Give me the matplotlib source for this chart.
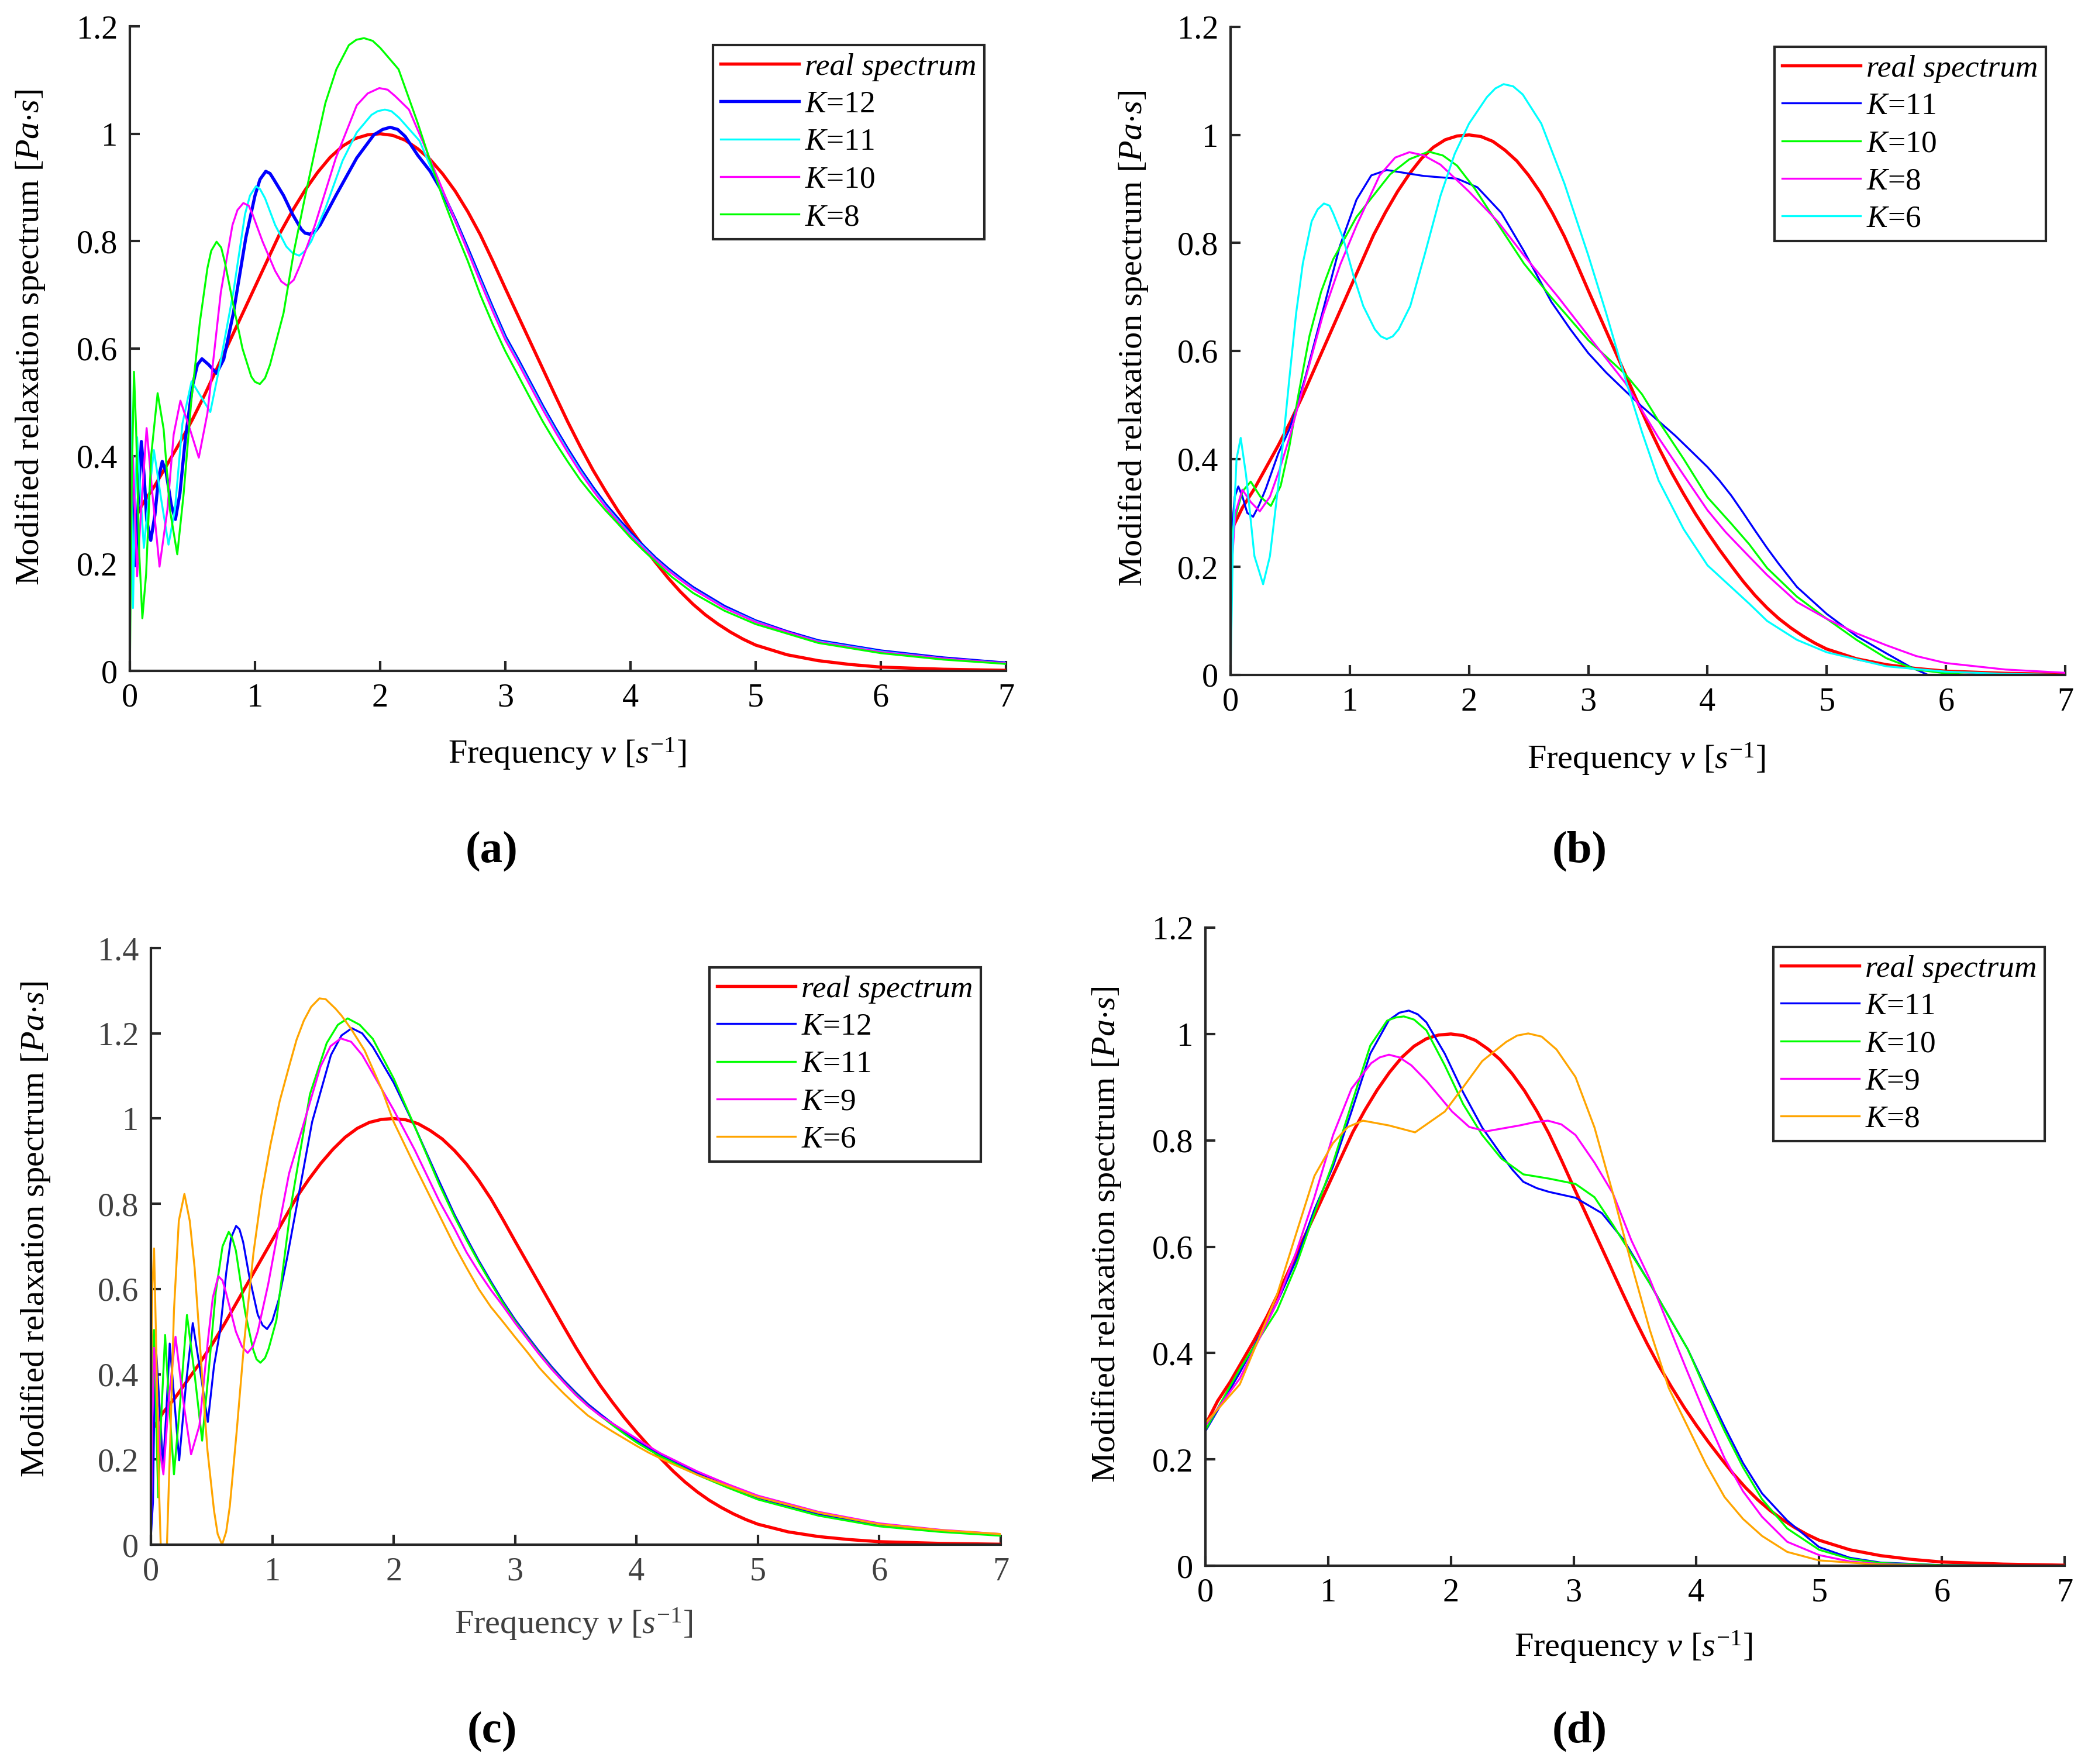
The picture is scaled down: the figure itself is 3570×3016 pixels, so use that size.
import matplotlib
matplotlib.use("Agg")
import matplotlib.pyplot as plt
from matplotlib.ticker import FuncFormatter, MultipleLocator

plt.rcParams['font.family'] = ['Liberation Serif', 'DejaVu Serif']
plt.rcParams['mathtext.fontset'] = 'custom'
plt.rcParams['mathtext.rm'] = 'Liberation Serif'
plt.rcParams['mathtext.it'] = 'Liberation Serif:italic'
plt.rcParams['mathtext.bf'] = 'Liberation Serif:bold'

# ---------------- data ----------------
real_v = [0.0, 0.1, 0.2, 0.3, 0.4, 0.5, 0.6, 0.7, 0.8, 0.9, 1.0, 1.1, 1.2, 1.3, 1.4, 1.5,
          1.6, 1.7, 1.8, 1.9, 2.0, 2.1, 2.2, 2.3, 2.4, 2.5, 2.6, 2.7, 2.8, 2.9, 3.0, 3.1,
          3.2, 3.3, 3.4, 3.5, 3.6, 3.7, 3.8, 3.9, 4.0, 4.1, 4.2, 4.3, 4.4, 4.5, 4.6, 4.7,
          4.8, 4.9, 5.0, 5.25, 5.5, 5.75, 6.0, 6.5, 7.0]
real_h = [0.265, 0.31, 0.345, 0.385, 0.425, 0.468, 0.515, 0.565, 0.615, 0.665, 0.715, 0.765,
          0.815, 0.857, 0.895, 0.928, 0.956, 0.977, 0.991, 0.998, 1.0, 0.997, 0.988, 0.972,
          0.952, 0.925, 0.893, 0.855, 0.812, 0.763, 0.712, 0.662, 0.612, 0.562, 0.512, 0.463,
          0.417, 0.374, 0.335, 0.298, 0.264, 0.232, 0.202, 0.173, 0.147, 0.124, 0.104, 0.087,
          0.072, 0.059, 0.048, 0.030, 0.019, 0.012, 0.007, 0.003, 0.001]

# ---- panel (a) ----
a_k12_v = [0.0, 0.02, 0.045, 0.07, 0.092, 0.115, 0.135, 0.167, 0.2, 0.23, 0.259, 0.29, 0.33,
           0.364, 0.40, 0.443, 0.50, 0.54, 0.576, 0.63, 0.693, 0.75, 0.827, 0.927, 1.0, 1.04,
           1.086, 1.12, 1.15, 1.228, 1.30, 1.37, 1.40, 1.437, 1.48, 1.52, 1.646, 1.813, 1.95,
           2.02, 2.08, 2.14, 2.2, 2.3, 2.4, 2.5, 2.6, 2.7, 2.8, 2.9, 3.0, 3.1, 3.2, 3.3, 3.4,
           3.5, 3.6, 3.7, 3.8, 3.9, 4.0, 4.1, 4.2, 4.3, 4.4, 4.5, 4.75, 5.0, 5.25, 5.5, 6.0,
           6.5, 7.0]
a_k12_h = [0.47, 0.30, 0.196, 0.33, 0.427, 0.36, 0.28, 0.243, 0.29, 0.36, 0.39, 0.37, 0.31,
           0.282, 0.33, 0.431, 0.53, 0.57, 0.581, 0.57, 0.554, 0.58, 0.666, 0.807, 0.885, 0.915,
           0.93, 0.926, 0.915, 0.885, 0.85, 0.822, 0.815, 0.813, 0.818, 0.83, 0.885, 0.955,
           0.998, 1.008, 1.012, 1.008, 0.995, 0.96, 0.93, 0.89, 0.84, 0.786, 0.73, 0.675,
           0.622, 0.58, 0.536, 0.492, 0.451, 0.412, 0.375, 0.341, 0.31, 0.283, 0.257, 0.233,
           0.21, 0.19, 0.172, 0.155, 0.12, 0.093, 0.073, 0.056, 0.037, 0.024, 0.0145]

a_k11_v = [0.0, 0.012, 0.025, 0.04, 0.058, 0.085, 0.112, 0.15, 0.192, 0.25, 0.309, 0.36, 0.42,
           0.493, 0.57, 0.643, 0.72, 0.827, 0.92, 0.96, 1.0075, 1.04, 1.08, 1.161, 1.25, 1.30,
           1.353, 1.40, 1.45, 1.562, 1.7, 1.813, 1.93, 1.98, 2.038, 2.09, 2.15, 2.314, 2.4,
           2.5, 2.6, 2.7, 2.8, 2.9, 3.0, 3.1, 3.2, 3.3, 3.4, 3.5, 3.6, 3.7, 3.8, 3.9, 4.0,
           4.1, 4.2, 4.3, 4.4, 4.5, 4.75, 5.0, 5.25, 5.5, 6.0, 6.5, 7.0]
a_k11_h = [0.60, 0.35, 0.117, 0.30, 0.435, 0.33, 0.229, 0.32, 0.411, 0.32, 0.235, 0.30, 0.46,
           0.539, 0.51, 0.482, 0.57, 0.705, 0.85, 0.885, 0.902, 0.897, 0.88, 0.83, 0.79, 0.778,
           0.773, 0.782, 0.80, 0.861, 0.95, 1.0025, 1.035, 1.042, 1.045, 1.042, 1.03, 0.987,
           0.94, 0.893, 0.839, 0.783, 0.727, 0.672, 0.619, 0.577, 0.533, 0.489, 0.448, 0.409,
           0.372, 0.338, 0.307, 0.28, 0.254, 0.231, 0.208, 0.188, 0.17, 0.153, 0.118, 0.092,
           0.072, 0.055, 0.036, 0.023, 0.014]

a_k10_v = [0.0, 0.01, 0.025, 0.04, 0.058, 0.09, 0.134, 0.18, 0.237, 0.30, 0.35, 0.404, 0.48,
           0.551, 0.62, 0.727, 0.82, 0.86, 0.907, 0.95, 0.98, 1.061, 1.16, 1.21, 1.258, 1.31,
           1.36, 1.479, 1.646, 1.813, 1.9, 1.993, 2.06, 2.12, 2.23, 2.35, 2.5, 2.6, 2.7, 2.8,
           2.9, 3.0, 3.1, 3.2, 3.3, 3.4, 3.5, 3.6, 3.7, 3.8, 3.9, 4.0, 4.1, 4.2, 4.3, 4.4, 4.5,
           4.75, 5.0, 5.5, 6.0, 6.5, 7.0]
a_k10_h = [0.05, 0.30, 0.40, 0.30, 0.176, 0.30, 0.452, 0.33, 0.194, 0.30, 0.44, 0.503, 0.45,
           0.397, 0.48, 0.705, 0.83, 0.858, 0.871, 0.866, 0.85, 0.799, 0.745, 0.725, 0.717,
           0.728, 0.755, 0.83, 0.955, 1.053, 1.075, 1.085, 1.082, 1.07, 1.045, 0.98, 0.895,
           0.838, 0.781, 0.724, 0.669, 0.616, 0.574, 0.53, 0.486, 0.445, 0.406, 0.369, 0.336,
           0.305, 0.278, 0.252, 0.229, 0.207, 0.187, 0.169, 0.152, 0.117, 0.091, 0.054, 0.035,
           0.023, 0.014]

a_k8_v = [0.0, 0.015, 0.033, 0.05, 0.075, 0.1, 0.13, 0.17, 0.222, 0.27, 0.32, 0.379, 0.43,
          0.49, 0.56, 0.62, 0.65, 0.693, 0.73, 0.76, 0.827, 0.90, 0.97, 1.0, 1.039, 1.08, 1.12,
          1.228, 1.31, 1.395, 1.48, 1.562, 1.65, 1.75, 1.81, 1.871, 1.94, 2.0, 2.147, 2.3,
          2.42, 2.5, 2.6, 2.7, 2.8, 2.9, 3.0, 3.1, 3.2, 3.3, 3.4, 3.5, 3.6, 3.7, 3.8, 3.9, 4.0,
          4.1, 4.2, 4.33, 4.5, 4.75, 5.0, 5.5, 6.0, 6.5, 7.0]
a_k8_h = [0.0, 0.35, 0.557, 0.45, 0.22, 0.098, 0.18, 0.40, 0.517, 0.45, 0.30, 0.217, 0.33,
          0.50, 0.65, 0.75, 0.782, 0.799, 0.788, 0.76, 0.681, 0.60, 0.548, 0.538, 0.534, 0.545,
          0.57, 0.666, 0.78, 0.877, 0.97, 1.057, 1.12, 1.165, 1.175, 1.178, 1.173, 1.16, 1.12,
          1.02, 0.935, 0.881, 0.82, 0.763, 0.70, 0.645, 0.595, 0.551, 0.507, 0.464, 0.425,
          0.389, 0.355, 0.326, 0.299, 0.274, 0.248, 0.225, 0.203, 0.175, 0.145, 0.112, 0.087,
          0.052, 0.033, 0.021, 0.013]

# ---- panel (b) ----
b_k11_v = [0.0, 0.015, 0.035, 0.065, 0.1, 0.14, 0.189, 0.24, 0.296, 0.4, 0.493, 0.56, 0.634,
           0.775, 0.915, 1.056, 1.18, 1.31, 1.45, 1.62, 1.90, 2.07, 2.27, 2.46, 2.69, 2.85, 3.0,
           3.15, 3.31, 3.45, 3.59, 3.73, 3.87, 4.0, 4.1, 4.2, 4.3, 4.4, 4.5, 4.6, 4.75, 5.0,
           5.25, 5.5, 5.7, 5.85, 6.0, 6.5, 7.0]
b_k11_h = [0.08, 0.28, 0.33, 0.349, 0.33, 0.30, 0.293, 0.315, 0.345, 0.41, 0.455, 0.50, 0.557,
           0.675, 0.793, 0.88, 0.925, 0.935, 0.93, 0.924, 0.919, 0.903, 0.856, 0.785, 0.691,
           0.64, 0.596, 0.56, 0.526, 0.497, 0.47, 0.443, 0.413, 0.385, 0.36, 0.332, 0.30, 0.267,
           0.235, 0.205, 0.163, 0.113, 0.072, 0.04, 0.015, 0.0, -0.01, -0.01, -0.005]

b_k10_v = [0.0, 0.05, 0.1, 0.169, 0.25, 0.338, 0.42, 0.493, 0.57, 0.662, 0.76, 0.859, 1.056,
           1.338, 1.5, 1.662, 1.78, 1.90, 2.05, 2.18, 2.46, 2.69, 3.0, 3.31, 3.45, 3.59, 3.8,
           4.0, 4.2, 4.35, 4.5, 4.75, 5.0, 5.25, 5.5, 5.75, 6.0, 6.2, 7.0]
b_k10_h = [0.25, 0.30, 0.34, 0.358, 0.33, 0.313, 0.35, 0.423, 0.52, 0.628, 0.71, 0.769, 0.848,
           0.927, 0.955, 0.969, 0.962, 0.943, 0.90, 0.856, 0.762, 0.699, 0.62, 0.557, 0.52,
           0.47, 0.40, 0.329, 0.28, 0.242, 0.198, 0.145, 0.104, 0.065, 0.031, 0.01, 0.003, 0.0,
           0.0]

b_k8_v = [0.0, 0.04, 0.099, 0.17, 0.245, 0.33, 0.41, 0.493, 0.63, 0.775, 0.92, 1.056, 1.25,
          1.38, 1.5, 1.62, 1.76, 2.0, 2.24, 2.46, 2.75, 3.0, 3.31, 3.59, 3.8, 4.0, 4.15, 4.35,
          4.5, 4.75, 5.0, 5.25, 5.5, 5.75, 6.0, 6.5, 7.0]
b_k8_h = [0.17, 0.30, 0.343, 0.32, 0.303, 0.33, 0.38, 0.439, 0.55, 0.667, 0.76, 0.832, 0.925,
          0.958, 0.968, 0.962, 0.945, 0.895, 0.84, 0.777, 0.699, 0.628, 0.541, 0.439, 0.37,
          0.305, 0.265, 0.219, 0.185, 0.135, 0.104, 0.077, 0.055, 0.035, 0.022, 0.01, 0.004]

b_k6_v = [0.0, 0.02, 0.05, 0.085, 0.13, 0.2, 0.273, 0.33, 0.38, 0.44, 0.493, 0.55, 0.606,
          0.68, 0.73, 0.783, 0.83, 0.86, 0.944, 1.03, 1.113, 1.21, 1.26, 1.31, 1.36, 1.41,
          1.507, 1.63, 1.76, 1.88, 2.0, 2.15, 2.22, 2.29, 2.37, 2.45, 2.606, 2.8, 3.0, 3.15,
          3.31, 3.45, 3.59, 3.8, 4.0, 4.35, 4.5, 4.75, 5.0, 5.5, 6.0, 6.5, 7.0]
b_k6_h = [0.0, 0.25, 0.40, 0.439, 0.37, 0.22, 0.168, 0.22, 0.313, 0.43, 0.549, 0.67, 0.762,
          0.84, 0.862, 0.873, 0.869, 0.855, 0.809, 0.74, 0.683, 0.64, 0.627, 0.622, 0.627,
          0.64, 0.683, 0.78, 0.887, 0.965, 1.021, 1.07, 1.086, 1.094, 1.09, 1.075, 1.021,
          0.91, 0.777, 0.67, 0.549, 0.45, 0.36, 0.27, 0.203, 0.132, 0.10, 0.065, 0.042, 0.016,
          0.006, 0.002, 0.0]

# ---- panel (c) ----
c_k12_v = [0.0, 0.017, 0.03, 0.043, 0.07, 0.1, 0.125, 0.155, 0.19, 0.233, 0.29, 0.345, 0.40,
           0.469, 0.52, 0.569, 0.621, 0.66, 0.702, 0.73, 0.76, 0.81, 0.88, 0.92, 0.957, 1.0,
           1.052, 1.12, 1.19, 1.328, 1.483, 1.57, 1.655, 1.74, 1.828, 2.0, 2.172, 2.376, 2.5,
           2.6, 2.7, 2.8, 2.9, 3.0, 3.1, 3.2, 3.3, 3.4, 3.5, 3.6, 3.7, 3.8, 3.9, 4.0, 4.1, 4.2,
           4.3, 4.5, 4.75, 5.0, 5.5, 6.0, 6.5, 7.0]
c_k12_h = [0.02, 0.10, 0.35, 0.458, 0.33, 0.184, 0.30, 0.472, 0.35, 0.198, 0.38, 0.52, 0.42,
           0.288, 0.42, 0.50, 0.639, 0.72, 0.748, 0.74, 0.71, 0.63, 0.54, 0.515, 0.506, 0.525,
           0.574, 0.67, 0.778, 0.992, 1.149, 1.195, 1.212, 1.20, 1.168, 1.084, 0.982, 0.852,
           0.775, 0.72, 0.667, 0.618, 0.571, 0.528, 0.49, 0.453, 0.418, 0.386, 0.357, 0.33,
           0.307, 0.285, 0.264, 0.244, 0.227, 0.211, 0.197, 0.168, 0.138, 0.11, 0.072, 0.046,
           0.033, 0.024]

c_k11_v = [0.0, 0.012, 0.026, 0.043, 0.06, 0.085, 0.117, 0.15, 0.19, 0.24, 0.297, 0.36, 0.422,
           0.48, 0.534, 0.59, 0.641, 0.67, 0.70, 0.776, 0.84, 0.87, 0.902, 0.94, 0.97, 1.034,
           1.155, 1.31, 1.448, 1.54, 1.621, 1.72, 1.828, 2.0, 2.172, 2.376, 2.5, 2.6, 2.7, 2.8,
           2.9, 3.0, 3.1, 3.2, 3.3, 3.4, 3.5, 3.6, 3.7, 3.8, 3.9, 4.0, 4.1, 4.2, 4.3, 4.5, 4.75,
           5.0, 5.5, 6.0, 6.5, 7.0]
c_k11_h = [0.30, 0.45, 0.504, 0.30, 0.111, 0.30, 0.492, 0.33, 0.165, 0.33, 0.539, 0.40, 0.244,
           0.42, 0.592, 0.70, 0.734, 0.72, 0.69, 0.546, 0.46, 0.435, 0.427, 0.438, 0.46, 0.527,
           0.797, 1.057, 1.177, 1.22, 1.235, 1.22, 1.187, 1.094, 0.982, 0.845, 0.77, 0.715,
           0.663, 0.614, 0.567, 0.524, 0.486, 0.449, 0.414, 0.382, 0.353, 0.326, 0.303, 0.281,
           0.26, 0.24, 0.223, 0.207, 0.193, 0.164, 0.134, 0.106, 0.068, 0.043, 0.03, 0.021]

c_k9_v = [0.0, 0.012, 0.026, 0.05, 0.075, 0.103, 0.15, 0.203, 0.26, 0.331, 0.40, 0.47, 0.51,
          0.555, 0.59, 0.62, 0.70, 0.75, 0.797, 0.84, 0.88, 0.966, 1.05, 1.138, 1.31, 1.397,
          1.48, 1.564, 1.65, 1.741, 2.0, 2.172, 2.376, 2.5, 2.6, 2.7, 2.8, 2.9, 3.0, 3.1, 3.2,
          3.3, 3.4, 3.5, 3.6, 3.7, 3.8, 3.9, 4.0, 4.1, 4.2, 4.3, 4.5, 4.75, 5.0, 5.5, 6.0,
          6.5, 7.0]
c_k9_h = [0.02, 0.30, 0.462, 0.35, 0.22, 0.165, 0.35, 0.488, 0.35, 0.212, 0.28, 0.48, 0.58,
          0.63, 0.62, 0.59, 0.50, 0.465, 0.45, 0.465, 0.50, 0.611, 0.74, 0.871, 1.038, 1.122,
          1.17, 1.188, 1.18, 1.149, 1.02, 0.927, 0.806, 0.742, 0.686, 0.64, 0.598, 0.56, 0.52,
          0.483, 0.446, 0.412, 0.381, 0.351, 0.325, 0.303, 0.285, 0.267, 0.249, 0.231, 0.214,
          0.20, 0.172, 0.142, 0.115, 0.077, 0.05, 0.035, 0.025]

c_k6_v = [0.0, 0.012, 0.026, 0.045, 0.065, 0.086, 0.11, 0.13, 0.16, 0.19, 0.23, 0.276, 0.32,
          0.36, 0.397, 0.43, 0.466, 0.52, 0.55, 0.586, 0.62, 0.65, 0.707, 0.77, 0.845, 0.91,
          0.983, 1.06, 1.138, 1.2, 1.26, 1.32, 1.388, 1.44, 1.52, 1.569, 1.65, 1.76, 1.9,
          2.0, 2.172, 2.376, 2.5, 2.6, 2.7, 2.8, 2.9, 3.0, 3.1, 3.2, 3.3, 3.4, 3.5, 3.6, 3.7,
          3.8, 3.9, 4.0, 4.1, 4.2, 4.3, 4.5, 4.75, 5.0, 5.5, 6.0, 6.5, 7.0]
c_k6_h = [0.33, 0.60, 0.695, 0.45, 0.15, -0.05, -0.15, -0.02, 0.25, 0.55, 0.76, 0.823, 0.76,
          0.65, 0.50, 0.36, 0.221, 0.08, 0.025, 0.0, 0.03, 0.09, 0.267, 0.48, 0.685, 0.82,
          0.936, 1.04, 1.122, 1.185, 1.23, 1.262, 1.282, 1.28, 1.258, 1.242, 1.21, 1.16, 1.07,
          0.992, 0.89, 0.773, 0.702, 0.65, 0.60, 0.558, 0.523, 0.487, 0.452, 0.415, 0.384,
          0.355, 0.328, 0.303, 0.284, 0.266, 0.249, 0.232, 0.216, 0.202, 0.189, 0.164, 0.138,
          0.112, 0.075, 0.048, 0.034, 0.025]

# ---- panel (d) ----
d_k11_v = [0.0, 0.28, 0.584, 0.74, 0.888, 1.04, 1.19, 1.343, 1.495, 1.58, 1.657, 1.73, 1.8,
           1.95, 2.1, 2.255, 2.41, 2.5, 2.59, 2.7, 2.8, 3.015, 3.23, 3.41, 3.62, 3.93, 4.08,
           4.23, 4.38, 4.535, 4.74, 5.0, 5.25, 5.5, 6.0, 7.0]
d_k11_h = [0.253, 0.363, 0.495, 0.575, 0.67, 0.751, 0.854, 0.963, 1.026, 1.04, 1.044, 1.037,
           1.022, 0.963, 0.89, 0.824, 0.773, 0.745, 0.722, 0.71, 0.703, 0.692, 0.663, 0.612,
           0.531, 0.407, 0.333, 0.261, 0.193, 0.136, 0.085, 0.035, 0.015, 0.006, 0.001, 0.0]

d_k10_v = [0.0, 0.28, 0.584, 0.74, 0.888, 1.04, 1.19, 1.343, 1.48, 1.55, 1.617, 1.7, 1.8,
           1.95, 2.1, 2.255, 2.41, 2.59, 2.8, 3.015, 3.17, 3.32, 3.62, 3.93, 4.08, 4.23, 4.38,
           4.535, 4.74, 5.0, 5.25, 5.5, 6.0, 7.0]
d_k10_h = [0.255, 0.37, 0.48, 0.565, 0.663, 0.758, 0.868, 0.978, 1.025, 1.031, 1.033, 1.027,
           1.007, 0.941, 0.868, 0.81, 0.766, 0.736, 0.728, 0.718, 0.693, 0.641, 0.531, 0.407,
           0.328, 0.253, 0.185, 0.125, 0.07, 0.03, 0.013, 0.005, 0.001, 0.0]

d_k9_v = [0.0, 0.28, 0.584, 0.74, 0.888, 1.04, 1.19, 1.35, 1.42, 1.495, 1.58, 1.678, 1.8,
          2.01, 2.15, 2.29, 2.56, 2.68, 2.79, 2.9, 3.015, 3.17, 3.32, 3.47, 3.62, 3.93, 4.08,
          4.23, 4.38, 4.535, 4.74, 5.0, 5.25, 5.5, 6.0, 7.0]
d_k9_h = [0.264, 0.352, 0.495, 0.59, 0.693, 0.81, 0.897, 0.945, 0.956, 0.961, 0.956, 0.941,
          0.912, 0.854, 0.825, 0.817, 0.828, 0.834, 0.837, 0.83, 0.81, 0.758, 0.70, 0.612,
          0.539, 0.363, 0.28, 0.202, 0.14, 0.092, 0.045, 0.02, 0.008, 0.003, 0.0, 0.0]

d_k8_v = [0.0, 0.28, 0.584, 0.74, 0.888, 1.04, 1.16, 1.283, 1.495, 1.708, 1.95, 2.1, 2.255,
          2.45, 2.54, 2.63, 2.74, 2.86, 3.015, 3.17, 3.32, 3.47, 3.62, 3.775, 3.93, 4.08, 4.23,
          4.38, 4.535, 4.74, 5.0, 5.5, 6.0, 7.0]
d_k8_h = [0.268, 0.341, 0.51, 0.625, 0.733, 0.795, 0.825, 0.837, 0.828, 0.815, 0.854, 0.90,
          0.949, 0.985, 0.997, 1.001, 0.995, 0.971, 0.919, 0.824, 0.70, 0.568, 0.444, 0.334,
          0.261, 0.19, 0.129, 0.088, 0.056, 0.026, 0.01, 0.002, 0.0, 0.0]

x_ticks = [0, 1, 2, 3, 4, 5, 6, 7]

RED, BLUE, CYAN, MAG, GREEN, ORANGE = '#FF0000', '#0000FF', '#00FFFF', '#FF00FF', '#00FF00', '#FFA500'
THICK, THIN = 1.3, 0.8
AXCOL = '#262626'

W, H = 3570, 3016
fig = plt.figure(figsize=(W / 300, H / 300), dpi=300)


def px_axes(l, r, t, b):
    return fig.add_axes([l / W, 1 - b / H, (r - l) / W, (b - t) / H])


def style(ax, ymax, tickcol):
    ax.set_xlim(0, 7)
    ax.set_ylim(0, ymax)
    ax.set_xticks(x_ticks)
    ax.yaxis.set_major_locator(MultipleLocator(0.2))
    ax.yaxis.set_major_formatter(FuncFormatter(lambda v, p: '%g' % round(v, 2)))
    for s in ('top', 'right'):
        ax.spines[s].set_visible(False)
    for s in ('left', 'bottom'):
        ax.spines[s].set_color(AXCOL)
        ax.spines[s].set_linewidth(1.0)
    ax.tick_params(direction='in', length=4, width=1.0, color=AXCOL,
                   labelsize=13.5, labelcolor=tickcol, pad=5)


def legend(ax, ax_x, ax_y):
    leg = ax.legend(loc='upper right', bbox_to_anchor=(ax_x, ax_y), borderaxespad=0,
                    fontsize=12.8, frameon=True, fancybox=False, framealpha=1,
                    edgecolor=AXCOL, handlelength=2.5, handletextpad=0.2,
                    labelspacing=0.3, borderpad=0.25)
    leg.get_frame().set_linewidth(1.0)
    leg.get_texts()[0].set_style('italic')
    return leg


YLAB = 'Modified relaxation spectrum [$\\mathit{Pa{\\cdot}s}$]'
XLAB = 'Frequency $v$ [$s^{-1}$]'


def labels(ylx, yly, xlx, xly, tag, tx, ty, xcol='black'):
    fig.text(ylx / W, 1 - yly / H, YLAB, rotation=90, ha='center', va='center', fontsize=14)
    fig.text(xlx / W, 1 - xly / H, XLAB, ha='center', va='center', fontsize=14, color=xcol)
    fig.text(tx / W, 1 - ty / H, '(' + tag + ')', ha='center', va='center', fontsize=18.5,
             fontweight='bold')


# (a)
ax = px_axes(222, 1720, 45, 1147)
ax.plot(real_v, real_h, color=RED, lw=THICK, label='real spectrum')
ax.plot(a_k12_v, a_k12_h, color=BLUE, lw=THICK, label='$K$=12')
ax.plot(a_k11_v, a_k11_h, color=CYAN, lw=THIN, label='$K$=11')
ax.plot(a_k10_v, a_k10_h, color=MAG, lw=THIN, label='$K$=10')
ax.plot(a_k8_v, a_k8_h, color=GREEN, lw=THIN, label='$K$=8')
style(ax, 1.2, 'black')
legend(ax, (1683 - 222) / 1498, (1147 - 77) / 1102)
labels(52, 577, 970, 1289, 'a', 841, 1455)

# (b)
ax = px_axes(2104, 3531, 46, 1154)
ax.plot(real_v, real_h, color=RED, lw=THICK, label='real spectrum')
ax.plot(b_k11_v, b_k11_h, color=BLUE, lw=THIN, label='$K$=11')
ax.plot(b_k10_v, b_k10_h, color=GREEN, lw=THIN, label='$K$=10')
ax.plot(b_k8_v, b_k8_h, color=MAG, lw=THIN, label='$K$=8')
ax.plot(b_k6_v, b_k6_h, color=CYAN, lw=THIN, label='$K$=6')
style(ax, 1.2, 'black')
legend(ax, (3498 - 2104) / 1427, (1154 - 80) / 1108)
labels(1938, 579, 2815, 1298, 'b', 2701, 1455)

# (c)
ax = px_axes(258, 1711, 1621, 2641)
ax.plot(real_v, real_h, color=RED, lw=THICK, label='real spectrum')
ax.plot(c_k12_v, c_k12_h, color=BLUE, lw=THIN, label='$K$=12')
ax.plot(c_k11_v, c_k11_h, color=GREEN, lw=THIN, label='$K$=11')
ax.plot(c_k9_v, c_k9_h, color=MAG, lw=THIN, label='$K$=9')
ax.plot(c_k6_v, c_k6_h, color=ORANGE, lw=THIN, label='$K$=6')
style(ax, 1.4, '#404040')
legend(ax, (1677 - 258) / 1453, (2641 - 1654) / 1020)
labels(61, 2102, 981, 2777, 'c', 841, 2960, xcol='#404040')

# (d)
ax = px_axes(2061, 3530, 1586, 2677)
ax.plot(real_v, real_h, color=RED, lw=THICK, label='real spectrum')
ax.plot(d_k11_v, d_k11_h, color=BLUE, lw=THIN, label='$K$=11')
ax.plot(d_k10_v, d_k10_h, color=GREEN, lw=THIN, label='$K$=10')
ax.plot(d_k9_v, d_k9_h, color=MAG, lw=THIN, label='$K$=9')
ax.plot(d_k8_v, d_k8_h, color=ORANGE, lw=THIN, label='$K$=8')
style(ax, 1.2, 'black')
legend(ax, (3496 - 2061) / 1469, (2677 - 1619) / 1091)
labels(1892, 2111, 2793, 2816, 'd', 2701, 2960)

fig.savefig('out.png', dpi=300, facecolor='white')
